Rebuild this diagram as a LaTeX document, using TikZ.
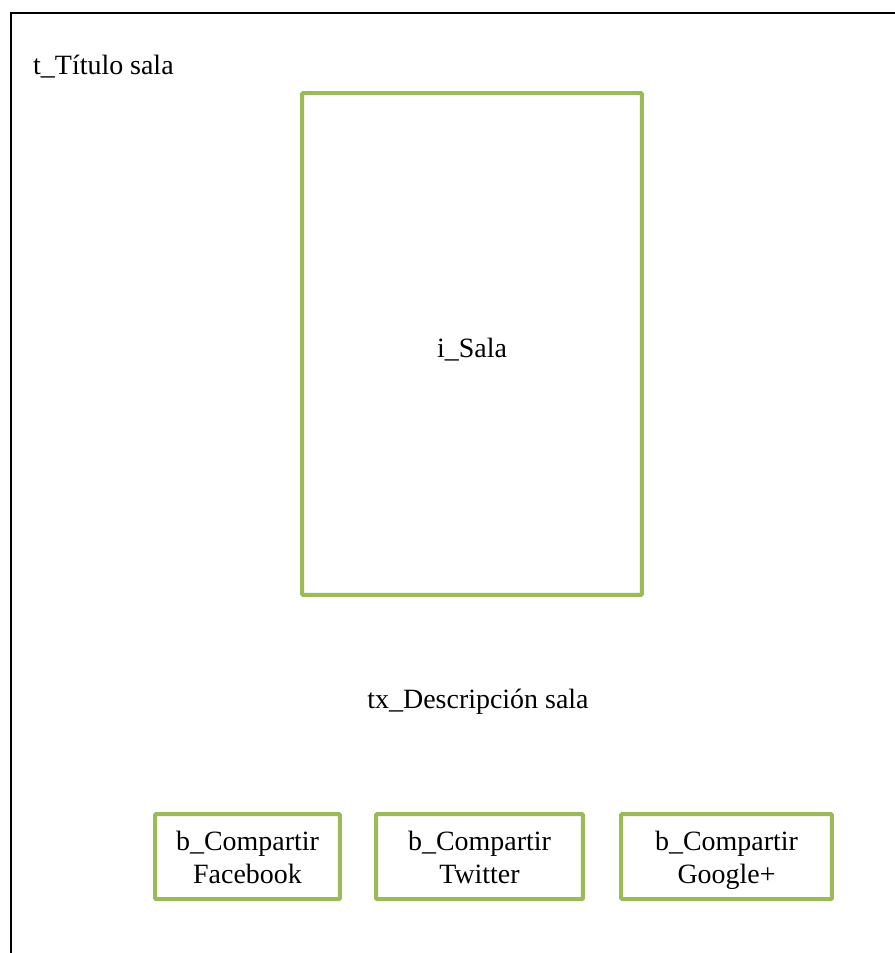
\documentclass[tikz,border=0pt]{standalone}
\usepackage{fontspec}
\setmainfont{Liberation Serif}
\usepackage{tikz}
\usepackage{xcolor}
\usetikzlibrary{positioning}
\definecolor{officegreen}{HTML}{9BBB59}
\newcommand{\topstrut}{\rule{0pt}{17.2pt}}

\begin{document}
\begin{tikzpicture}[x=0.02cm, y=-0.02cm,
                    every node/.style={font=\fontsize{15.9}{18.8}\selectfont},
                    greenbox/.style={draw=officegreen, line width=0.08cm, rounded corners=0.6pt, inner sep=0pt, align=center},
                    frame/.style={draw=black, line width=0.04cm}]
                        \useasboundingbox (0, 0) rectangle (895, 953);
                        \coordinate (fb) at (11, 953);
                        \coordinate (ftl) at (11, 13);
                        \coordinate (ftr) at (895, 13);
                        \draw[frame] (fb) -- (ftl) -- (ftr);
                        \node[anchor=base west] (titulo) at (27, 75) {t\_Título sala};
                        \node[greenbox, minimum width=6.8cm, minimum height=10.04cm] (sala) at (472, 344) {\topstrut i\_Sala};
                        \node[anchor=base] (desc) at (478, 708) {tx\_Descripción sala};
                        \node[greenbox, minimum width=3.7cm, minimum height=1.7cm] (facebook) at (247.5, 856.5) {\topstrut b\_Compartir\\Facebook\strut};
                        \node[greenbox, minimum width=4.14cm, minimum height=1.7cm] (twitter) at (479.5, 856.5) {\topstrut b\_Compartir\\Twitter\strut};
                        \node[greenbox, minimum width=4.22cm, minimum height=1.7cm] (google) at (726.5, 856.5) {\topstrut b\_Compartir\\Google+\strut};
                    \end{tikzpicture}
\end{document}
